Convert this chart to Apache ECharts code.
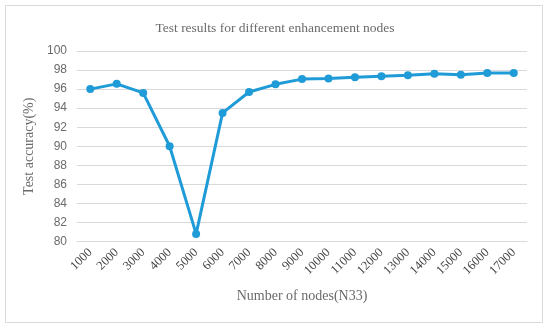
<!DOCTYPE html>
<html><head><meta charset="utf-8">
<script src="https://cdn.jsdelivr.net/npm/echarts@6/dist/echarts.min.js"></script>
<style>html,body{margin:0;padding:0;background:#fff}#c{width:550px;height:329px}</style>
</head><body><div id="c"></div>
<script>
var categories = ['1000','2000','3000','4000','5000','6000','7000','8000','9000','10000','11000','12000','13000','14000','15000','16000','17000'];
var accuracy = [96.0, 96.55, 95.6, 90.0, 80.8, 93.5, 95.7, 96.5, 97.05, 97.1, 97.25, 97.35, 97.45, 97.6, 97.5, 97.7, 97.7];
var yTicks = {min: 80, max: 100, step: 2};
var titleText = 'Test results for different enhancement nodes';
var yName = 'Test accuracy(%)';
var xName = 'Number of nodes(N33)';

var chart = echarts.init(document.getElementById('c'));
chart.setOption({
  animation: false,
  graphic: [{type:'rect', shape:{x:5.5,y:5.5,width:537,height:317}, style:{fill:'none', stroke:'#d9d9d9', lineWidth:1}}],
  title: {text: titleText, left: 'center', top: 16,
    textStyle: {fontFamily: 'Liberation Serif', fontWeight: 'normal', fontSize: 13.5, color: '#6a6a6a'}},
  grid: {left: 77, right: 23, top: 51, bottom: 87.5},
  xAxis: {type: 'category', data: categories, boundaryGap: true,
    name: xName, nameLocation: 'middle', nameGap: 48,
    nameTextStyle: {fontFamily: 'Liberation Serif', fontSize: 14, color: '#6a6a6a'},
    axisLine: {show: true, lineStyle: {color: '#d9d9d9'}}, axisTick: {show: false},
    axisLabel: {rotate: 45, interval: 0, margin: 9, fontFamily: 'Liberation Serif', fontSize: 12.5, color: '#404040'}},
  yAxis: {type: 'value', min: yTicks.min, max: yTicks.max, interval: yTicks.step,
    name: yName, nameLocation: 'middle', nameGap: 37, nameRotate: 90,
    nameTextStyle: {fontFamily: 'Liberation Serif', fontSize: 14, color: '#6a6a6a'},
    axisLine: {show: false}, axisTick: {show: false},
    axisLabel: {margin: 10, fontFamily: 'Liberation Sans', fontSize: 12, color: '#6a6a6a'},
    splitLine: {lineStyle: {color: '#d9d9d9', width: 1}}},
  series: [{type: 'line', data: accuracy, symbol: 'circle', symbolSize: 8,
    lineStyle: {color: '#1f9bd7', width: 3}, itemStyle: {color: '#1f9bd7'}}]
});
</script></body></html>
